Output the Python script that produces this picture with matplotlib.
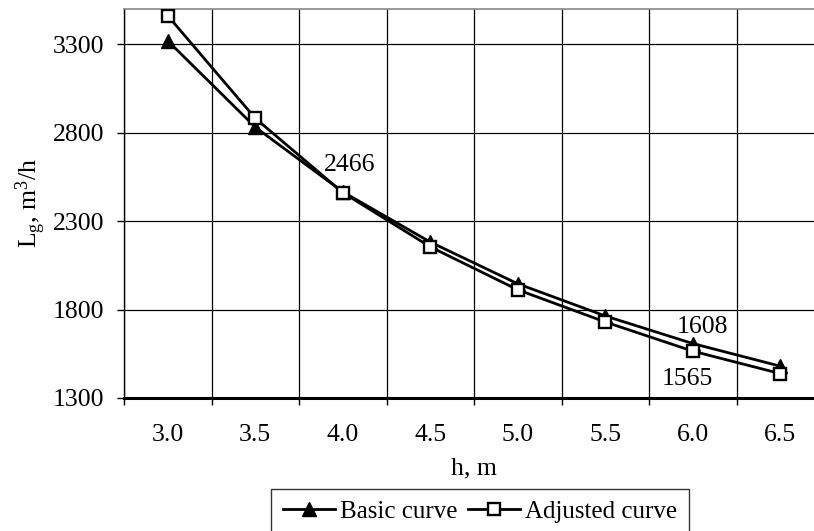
import matplotlib
matplotlib.use("Agg")
import matplotlib.pyplot as plt
from matplotlib.ticker import FixedLocator

plt.rcParams['font.family'] = ['Liberation Serif', 'DejaVu Serif']
plt.rcParams['mathtext.fontset'] = 'custom'
plt.rcParams['mathtext.rm'] = 'Liberation Serif'
plt.rcParams['mathtext.default'] = 'regular'

h_labels = ['3.0', '3.5', '4.0', '4.5', '5.0', '5.5', '6.0', '6.5']
basic = [3320, 2832, 2466, 2182, 1946, 1764, 1608, 1480]
adjusted = [3462, 2882, 2462, 2155, 1912, 1730, 1565, 1438]
y_ticks = [1300, 1800, 2300, 2800, 3300]

fs = 18.5

fig = plt.figure(figsize=(8.14, 5.31), dpi=100)
# plot area runs past the right edge of the picture, like the cropped original
ax = fig.add_axes([124 / 814, 1 - 398 / 531, 700 / 814, 389 / 531])

x = list(range(len(h_labels)))
ax.plot(x, basic, color='black', lw=2.0, marker='^', ms=10,
        mfc='black', mec='black', label='Basic curve', zorder=3)
ax.plot(x, adjusted, color='black', lw=2.0, marker='s', ms=8.5,
        mfc='white', mec='black', mew=1.7, label='Adjusted curve', zorder=4)

ax.set_xlim(-0.5, len(h_labels) - 0.5)
ax.set_ylim(1300, 3500)

ax.set_xticks(x)
ax.set_xticklabels(h_labels)
ax.xaxis.set_minor_locator(FixedLocator([i - 0.5 for i in range(len(h_labels) + 1)]))
ax.tick_params(axis='x', which='major', length=0, pad=19, labelsize=fs)
ax.tick_params(axis='x', which='minor', length=5, width=1, direction='out')
ax.set_yticks(y_ticks)
ax.tick_params(axis='y', length=5, width=1, direction='out', pad=9, labelsize=fs)

ax.grid(axis='x', which='minor', color='black', lw=0.9)
ax.grid(axis='y', which='major', color='black', lw=0.9)
ax.set_axisbelow(True)

ax.spines['bottom'].set_linewidth(2.2)
ax.spines['left'].set_linewidth(1.0)
ax.spines['top'].set_color('#888888')
ax.spines['top'].set_linewidth(1.2)
ax.spines['right'].set_visible(False)

ax.set_xlabel('h, m', fontsize=fs, labelpad=8)
ax.set_ylabel('L$_{g}$, m$^{3}$/h', fontsize=fs, labelpad=4)

ax.annotate('2466', (2, basic[2]), xytext=(5, 19), textcoords='offset points',
            ha='center', va='center', fontsize=fs)
ax.annotate('1608', (6, basic[6]), xytext=(7, 12), textcoords='offset points',
            ha='center', va='center', fontsize=fs)
ax.annotate('1565', (6, adjusted[6]), xytext=(-4, -20), textcoords='offset points',
            ha='center', va='center', fontsize=fs)

fig.legend(loc='upper center', bbox_to_anchor=(480 / 814, 1 - 489 / 531), ncol=2,
           fontsize=18, frameon=True, fancybox=False, edgecolor='black',
           handlelength=2.1, handletextpad=0.2, columnspacing=0.4,
           borderpad=0.45, borderaxespad=0)

fig.savefig('out.png', dpi=100)
